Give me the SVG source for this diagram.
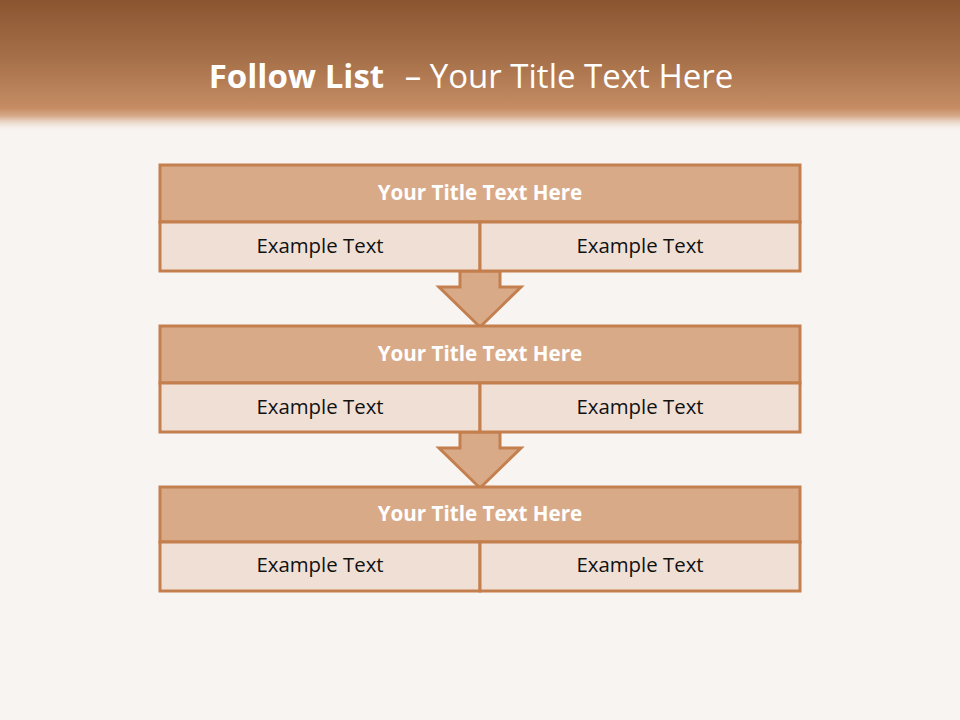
<svg xmlns="http://www.w3.org/2000/svg" width="960" height="720" viewBox="0 0 960 720">
<defs>
<linearGradient id="bar" x1="0" y1="0" x2="0" y2="1">
<stop offset="0" stop-color="#8A5530"/>
<stop offset="0.45" stop-color="#A6704A"/>
<stop offset="0.82" stop-color="#C68D63"/>
<stop offset="0.88" stop-color="#D6AA8A"/>
<stop offset="1" stop-color="#F8F4F1" stop-opacity="0"/>
</linearGradient>
<style>
.hdr{fill:#D9AA88;stroke:#C47F4F;stroke-width:3}
.cell{fill:#F0DFD5;stroke:#C47F4F;stroke-width:3}
.arrow{fill:#D9AA88;stroke:#C47F4F;stroke-width:3;stroke-linejoin:miter}
.ht{font-family:"Open Sans","Liberation Sans",sans-serif;font-weight:bold;font-size:20.6px;fill:#FFFFFF;text-anchor:middle}
.ct{font-family:"Open Sans","Liberation Sans",sans-serif;font-size:20.4px;fill:#111111;text-anchor:middle}
.tt{font-family:"Open Sans","Liberation Sans",sans-serif;font-size:33px;fill:#FFFFFF}
</style>
</defs>
<rect x="0" y="0" width="960" height="720" fill="#F8F4F1"/>
<rect x="0" y="0" width="960" height="132" fill="url(#bar)"/>
<text x="471" y="88" class="tt" text-anchor="middle"><tspan font-weight="bold">Follow List</tspan><tspan dx="12"> – Your Title Text Here</tspan></text>

<g id="connectors">
<polygon class="arrow" points="460,271 500,271 500,287 521,287 480,327 439,287 460,287"/>
<polygon class="arrow" points="460,432 500,432 500,448 521,448 480,488 439,448 460,448"/>
</g>

<g id="block1">
<rect class="hdr" x="160" y="165" width="640" height="57"/>
<rect class="cell" x="160" y="222" width="320" height="49"/>
<rect class="cell" x="480" y="222" width="320" height="49"/>
<text class="ht" x="480" y="200">Your Title Text Here</text>
<text class="ct" x="320" y="253">Example Text</text>
<text class="ct" x="640" y="253">Example Text</text>
</g>

<g id="block2">
<rect class="hdr" x="160" y="326" width="640" height="57"/>
<rect class="cell" x="160" y="383" width="320" height="49"/>
<rect class="cell" x="480" y="383" width="320" height="49"/>
<text class="ht" x="480" y="361">Your Title Text Here</text>
<text class="ct" x="320" y="414">Example Text</text>
<text class="ct" x="640" y="414">Example Text</text>
</g>

<g id="block3">
<rect class="hdr" x="160" y="487" width="640" height="55"/>
<rect class="cell" x="160" y="542" width="320" height="49"/>
<rect class="cell" x="480" y="542" width="320" height="49"/>
<text class="ht" x="480" y="521">Your Title Text Here</text>
<text class="ct" x="320" y="572">Example Text</text>
<text class="ct" x="640" y="572">Example Text</text>
</g>
</svg>
